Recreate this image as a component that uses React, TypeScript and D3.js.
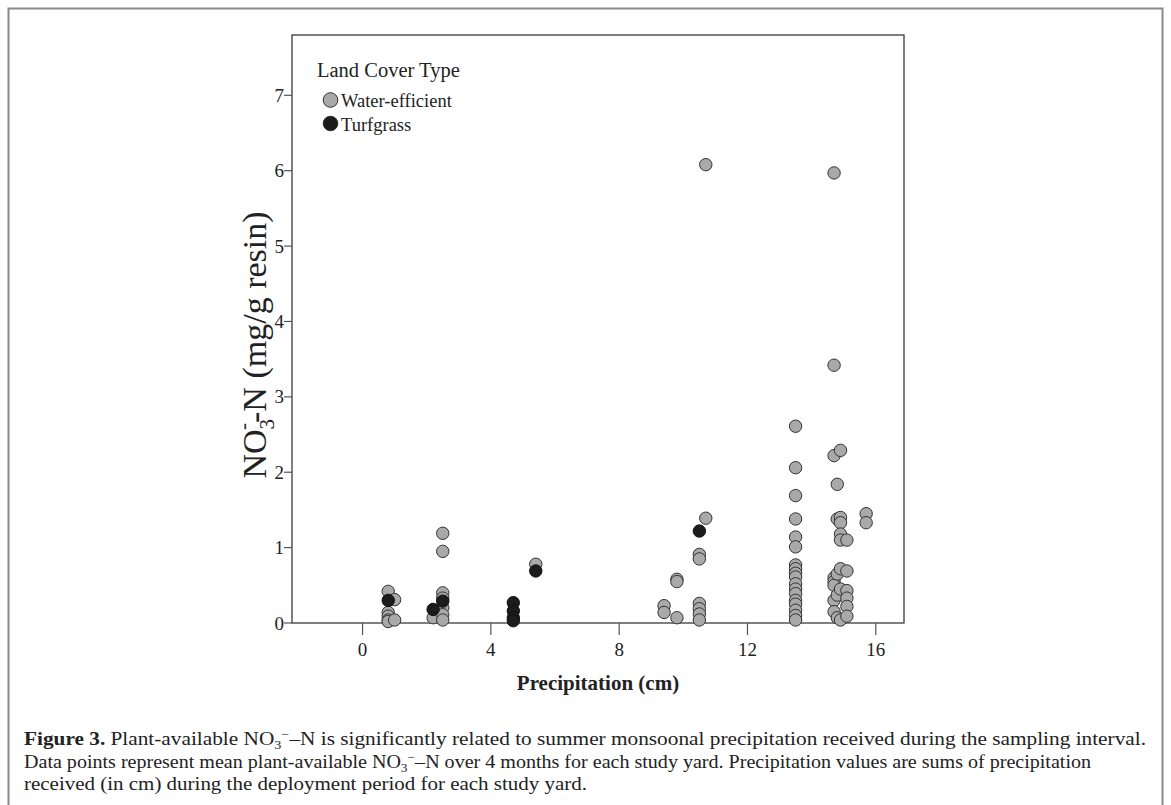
import React from "react";
import * as d3 from "d3";

const waterX = [0.8,0.8,0.8,0.8,0.8,1.0,1.0,2.2,2.5,2.5,2.5,2.5,2.5,2.5,2.5,5.4,9.4,9.4,9.8,9.8,9.8,10.5,10.5,10.5,10.5,10.5,10.5,10.7,10.7,
  13.5,13.5,13.5,13.5,13.5,13.5,13.5,13.5,13.5,13.5,13.5,13.5,13.5,13.5,13.5,13.5,13.5,13.5,
  14.7,14.7,14.7,14.7,14.7,14.7,14.7,14.7,14.8,14.8,14.8,14.8,14.8,14.9,14.9,14.9,14.9,14.9,14.9,14.9,14.9,
  15.1,15.1,15.1,15.1,15.1,15.1,15.7,15.7];
const waterY = [0.42,0.14,0.09,0.04,0.02,0.31,0.04,0.07,1.19,0.95,0.40,0.33,0.20,0.11,0.04,0.78,0.23,0.14,0.58,0.55,0.07,0.91,0.85,0.26,0.19,0.12,0.04,6.08,1.39,
  2.61,2.06,1.69,1.38,1.14,1.01,0.77,0.72,0.66,0.61,0.52,0.45,0.39,0.30,0.25,0.17,0.10,0.04,
  5.97,3.42,2.22,0.60,0.55,0.50,0.30,0.15,1.84,1.38,0.65,0.37,0.07,2.29,1.40,1.33,1.18,1.10,0.72,0.45,0.04,
  1.10,0.69,0.43,0.33,0.22,0.09,1.45,1.33];
const turfX = [0.8,2.2,2.5,4.7,4.7,4.7,4.7,5.4,10.5];
const turfY = [0.30,0.18,0.29,0.27,0.16,0.07,0.03,0.69,1.22];

const xTicks = [0, 4, 8, 12, 16];
const yTicks = [0, 1, 2, 3, 4, 5, 6, 7];
const legendItems = ["Water-efficient", "Turfgrass"];
const legendColors = ["#a9a9a9", "#1c1c1c"];

const serif = "'Liberation Serif', 'Times New Roman', serif";

export default function App() {
  const left = 292, right = 904, top = 35, bottom = 623;
  const x = d3.scaleLinear().domain([-2.2, 16.88]).range([left, right]);
  const y = d3.scaleLinear().domain([0, 7.8]).range([bottom, top]);
  const r = 6.2;

  return (
    <div style={{ position: "absolute", left: 0, top: 0 }}>
      <svg width={1171} height={805} style={{ display: "block", background: "#fff" }} fontFamily={serif}>
        <rect x={8.5} y={8.5} width={1154} height={820} fill="none" stroke="#8a8a8a" strokeWidth={2} />
        <rect x={left} y={top} width={right - left} height={bottom - top} fill="none" stroke="#2a2a2a" strokeWidth={1.2} />
        {yTicks.map((t) => (
          <g key={"y" + t}>
            <line x1={left - 8} x2={left} y1={y(t)} y2={y(t)} stroke="#555" strokeWidth={1.2} />
            <text x={left - 8} y={y(t)} dy="0.35em" textAnchor="end" fontSize={19} fill="#222">{t}</text>
          </g>
        ))}
        {xTicks.map((t) => (
          <g key={"x" + t}>
            <line x1={x(t)} x2={x(t)} y1={bottom} y2={bottom + 12} stroke="#555" strokeWidth={1.2} />
            <text x={x(t)} y={656} textAnchor="middle" fontSize={19} fill="#222">{t}</text>
          </g>
        ))}
        <text x={598} y={690} textAnchor="middle" fontSize={21} fontWeight="bold" fill="#222">Precipitation (cm)</text>
        <text transform="translate(266,345) rotate(-90)" textAnchor="middle" fontSize={34} fill="#222">
          <tspan>NO</tspan>
          <tspan dy={8} fontSize={21}>3</tspan>
          <tspan dx={-11} dy={-24} fontSize={21}>-</tspan>
          <tspan dy={16}>-N (mg/g resin)</tspan>
        </text>

        {waterX.map((v, i) => (
          <circle key={"w" + i} cx={x(v)} cy={y(waterY[i])} r={r} fill={legendColors[0]} stroke="#333" strokeWidth={1} />
        ))}
        {turfX.map((v, i) => (
          <circle key={"t" + i} cx={x(v)} cy={y(turfY[i])} r={r} fill={legendColors[1]} stroke="#111" strokeWidth={1} />
        ))}

        <text x={317} y={77} fontSize={20.5} fill="#222">Land Cover Type</text>
        {legendItems.map((name, i) => (
          <g key={name}>
            <circle cx={330.5} cy={100 + i * 23.5} r={7.3} fill={legendColors[i]} stroke="#333" strokeWidth={1} />
            <text x={341} y={107 + i * 24} fontSize={18.5} fill="#222">{name}</text>
          </g>
        ))}

        <g fontSize={18} fill="#222">
          <text x={24} y={745} textLength={1122} lengthAdjust="spacingAndGlyphs">
            <tspan fontWeight="bold">Figure 3.</tspan>
            <tspan> Plant-available NO</tspan>
            <tspan dy={4} fontSize={12}>3</tspan>
            <tspan dy={-11} fontSize={12}>−</tspan>
            <tspan dy={7}>–N is significantly related to summer monsoonal precipitation received during the sampling interval.</tspan>
          </text>
          <text x={24} y={768} textLength={1067} lengthAdjust="spacingAndGlyphs">
            <tspan>Data points represent mean plant-available NO</tspan>
            <tspan dy={4} fontSize={12}>3</tspan>
            <tspan dy={-11} fontSize={12}>−</tspan>
            <tspan dy={7}>–N over 4 months for each study yard. Precipitation values are sums of precipitation</tspan>
          </text>
          <text x={24} y={790} textLength={563} lengthAdjust="spacingAndGlyphs">received (in cm) during the deployment period for each study yard.</text>
        </g>
      </svg>
    </div>
  );
}
